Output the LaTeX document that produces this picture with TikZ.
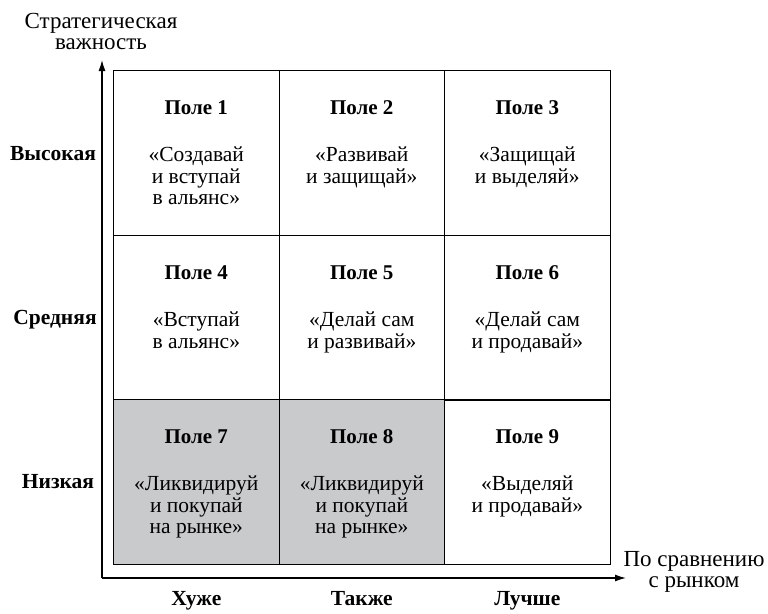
\documentclass[tikz,border=0pt]{standalone}
\usepackage{fontspec}
\setmainfont{Liberation Serif}
\usetikzlibrary{arrows.meta}
\definecolor{cellgray}{RGB}{201,202,204}
\begin{document}
\begin{tikzpicture}[x=1pt,y=-1pt,
  every node/.style={font=\fontsize{21.5}{21.5}\selectfont},
  cell/.style={draw, line width=1.1pt, minimum width=165.5pt, minimum height=165pt, inner sep=0pt, anchor=north west},
  shaded/.style={cell, fill=cellgray},
  fieldtitle/.style={font=\fontsize{21}{21}\selectfont\bfseries, anchor=base},
  motto/.style={align=center, anchor=north, inner sep=0pt},
  rowlabel/.style={font=\fontsize{21.5}{21}\selectfont\bfseries, anchor=base},
  axislabel/.style={align=center, inner sep=0pt, anchor=base},
  axis/.style={line width=1.3pt, -{Latex[length=11pt,width=7pt]}}]
\useasboundingbox (0,0) rectangle (768,613);

% grid of nine fields
\node[cell]   (c1) at (113,70)  {};
\node[cell]   (c2) at (278.5,70) {};
\node[cell]   (c3) at (444,70)  {};
\node[cell]   (c4) at (113,235) {};
\node[cell]   (c5) at (278.5,235) {};
\node[cell]   (c6) at (444,235) {};
\node[shaded] (c7) at (113,399) {};
\node[shaded] (c8) at (278.5,399) {};
\node[cell]   (c9) at (444,399) {};

% field titles and mottos
\foreach \n/\m in {1/{«Создавай\\и вступай\\в альянс»},
                   2/{«Развивай\\и защищай»},
                   3/{«Защищай\\и выделяй»},
                   4/{«Вступай\\в альянс»},
                   5/{«Делай сам\\и развивай»},
                   6/{«Делай сам\\и продавай»},
                   7/{«Ликвидируй\\и покупай\\на рынке»},
                   8/{«Ликвидируй\\и покупай\\на рынке»},
                   9/{«Выделяй\\и продавай»}}{
  \node[fieldtitle] (t\n) at ([yshift=-44pt]c\n.north) {Поле \n};
  \node[motto] (m\n) at ([yshift=-77pt]c\n.north) {\m};
}

% axes
\coordinate (o) at (102,578);
\coordinate (ytop) at (102,60);
\coordinate (xend) at (626,578);
\draw[axis] (o) -- (ytop);
\draw[axis] (o) -- (xend);

% axis titles (base anchor sits on the last line)
\node[axislabel, font=\fontsize{23}{21}\selectfont] (ytitle) at (101,49) {Стратегическая\\важность};
\node[axislabel, font=\fontsize{23}{21}\selectfont] (xtitle) at (694,587) {По сравнению\\с рынком};

% level labels
\node[rowlabel] (hi)  at (53,160) {Высокая};
\node[rowlabel] (mid) at (55,324) {Средняя};
\node[rowlabel] (lo)  at (58,488) {Низкая};

% comparison labels
\node[rowlabel] (worse)  at (c7.center |- 0,605) {Хуже};
\node[rowlabel] (same)   at (c8.center |- 0,605) {Также};
\node[rowlabel] (better) at (c9.center |- 0,605) {Лучше};
\end{tikzpicture}
\end{document}
